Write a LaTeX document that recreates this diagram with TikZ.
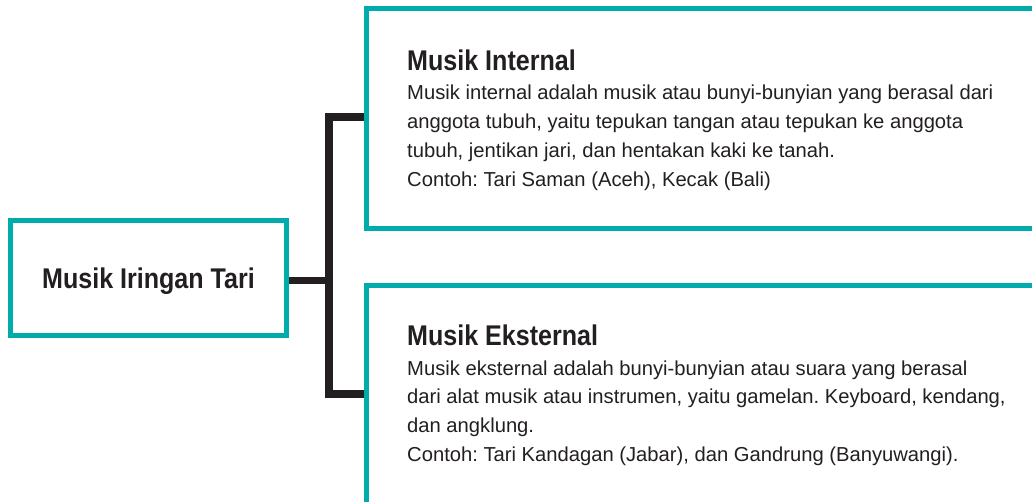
\documentclass[tikz,border=0pt]{standalone}
\usepackage{fontspec}
\setmainfont{Liberation Sans}
\newfontfamily\condfont[FakeStretch=0.88]{Liberation Sans}
\frenchspacing
\usetikzlibrary{backgrounds}
\definecolor{teal}{HTML}{00ABAB}
\definecolor{ink}{HTML}{231F20}
\tikzset{
  tbox/.style={draw=teal, line width=5pt, inner sep=0pt},
  conn/.style={draw=ink, line width=7.5pt, line join=miter},
  ttl/.style={anchor=base west, inner sep=0pt, text=ink, font=\condfont\bfseries\fontsize{28.5}{30}\selectfont},
  bdy/.style={anchor=base west, inner sep=0pt, text=ink, font=\fontsize{20.2}{24}\selectfont},
}
\begin{document}
\begin{tikzpicture}[x=1pt,y=-1pt]
\clip (0,0) rectangle (1032,502);
\node[tbox, minimum width=276pt, minimum height=114.5pt, text=ink,
      font=\condfont\bfseries\fontsize{28.5}{30}\selectfont,
      text height=20pt, text depth=0pt] (root) at (148.5,278.25) {Musik Iringan Tari};
\node[tbox, minimum width=694pt, minimum height=219.5pt] (intbox) at (713,118.75) {};
\node[tbox, minimum width=694pt, minimum height=254pt] (extbox) at (713,413) {};
\coordinate (j) at (329,280.5);
\coordinate (ta) at (329,117);
\coordinate (ba) at (329,394);
\begin{scope}[on background layer]
\fill[white] (0,0) rectangle (1032,502);
\draw[conn] (root.east |- j) -- (j);
\draw[conn] (intbox.west |- ta) -- (ta) -- (ba) -- (extbox.west |- ba);
\end{scope}
\node[ttl] (t1) at (407,70.7) {Musik Internal};
\node[bdy] (a1) at (407,100) {Musik internal adalah musik atau bunyi-bunyian yang berasal dari};
\node[bdy] (a2) at (407,128.7) {anggota tubuh, yaitu tepukan tangan atau tepukan ke anggota};
\node[bdy] (a3) at (407,157.4) {tubuh, jentikan jari, dan hentakan kaki ke tanah.};
\node[bdy] (a4) at (407,186.1) {Contoh: Tari Saman (Aceh), Kecak (Bali)};
\node[ttl] (t2) at (407,345) {Musik Eksternal};
\node[bdy] (b1) at (407,375) {Musik eksternal adalah bunyi-bunyian atau suara yang berasal};
\node[bdy] (b2) at (407,403.7) {dari alat musik atau instrumen, yaitu gamelan. Keyboard, kendang,};
\node[bdy] (b3) at (407,432.4) {dan angklung.};
\node[bdy] (b4) at (407,461.1) {Contoh: Tari Kandagan (Jabar), dan Gandrung (Banyuwangi).};
\end{tikzpicture}
\end{document}
